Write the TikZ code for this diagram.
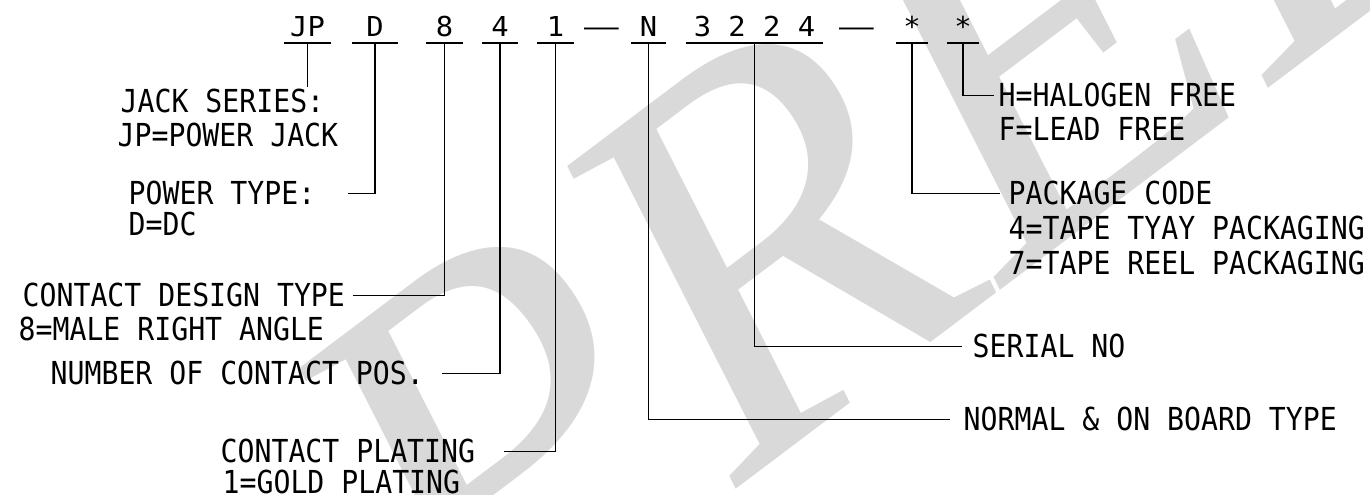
\documentclass[tikz,border=0pt]{standalone}
\usepackage{fontspec}
\usepackage{graphicx}
\usetikzlibrary{calc}
\newfontfamily\cadfont[FakeStretch=0.89]{DejaVu Sans Mono}
\newfontfamily\codefont[FakeStretch=1.05]{DejaVu Sans Mono}
\newfontfamily\markfont{Liberation Serif}

\tikzset{
  code/.style={inner xsep=0pt,inner ysep=0.06cm,text depth=0pt,anchor=south,font=\codefont\fontsize{7.8}{9}\selectfont},
  lbl/.style={inner sep=0pt,anchor=base west,font=\cadfont\fontsize{9}{9.5}\selectfont},
  watermark/.style={inner sep=0pt,anchor=base west,text=black!15,font=\markfont\itshape\fontsize{156}{156}\selectfont},
}

\begin{document}
\begin{tikzpicture}[x=0.01cm,y=-0.01cm]
\useasboundingbox (0,0) rectangle (1370,495);

% watermark
\begin{scope}
\clip (0,0) rectangle (1370,495);
\node[watermark,rotate=37] (prelim) at (470,690) {PRELIMINARY};
\end{scope}

% part number
\node[code,minimum width=0.45cm] (jp) at (307.5,43) {JP};
\node[code,minimum width=0.44cm] (d) at (375,43) {D};
\node[code,minimum width=0.35cm] (c8) at (444.5,43) {8};
\node[code,minimum width=0.34cm] (c4) at (500,43) {4};
\node[code,minimum width=0.35cm] (c1) at (555.5,43) {1};
\node[code] (dasha) at (601.5,43) {\scalebox{2}[1]{—}};
\node[code,minimum width=0.33cm] (cn) at (648.5,43) {N};
\node[code,minimum width=1.35cm] (serial) at (754.5,43) {3 2 2 4};
\node[code] (dashb) at (856.5,43) {\scalebox{2}[1]{—}};
\node[code,minimum width=0.30cm] (pkg) at (912,43) {*};
\node[code,minimum width=0.30cm] (hf) at (963,43) {*};
\foreach \n in {jp,d,c8,c4,c1,cn,serial,pkg,hf}
  \draw (\n.south west) -- (\n.south east);

% left labels
\node[lbl] (series) at (120,113) {JACK SERIES:};
\node[lbl] (seriesb) at (117,147) {JP=POWER JACK};
\node[lbl] (ptype) at (128,205) {POWER TYPE:};
\node[lbl] (ptypeb) at (128,236) {D=DC};
\node[lbl] (design) at (22,307) {CONTACT DESIGN TYPE};
\node[lbl] (designb) at (18,341) {8=MALE RIGHT ANGLE};
\node[lbl] (pos) at (50,385) {NUMBER OF CONTACT POS.};
\node[lbl] (plating) at (220,463) {CONTACT PLATING};
\node[lbl] (platingb) at (222,494) {1=GOLD PLATING};

% right labels
\node[lbl] (halo) at (998,107) {H=HALOGEN FREE};
\node[lbl] (halob) at (998,141) {F=LEAD FREE};
\node[lbl] (pack) at (1008,205) {PACKAGE CODE};
\node[lbl] (packb) at (1008,240) {4=TAPE TYAY PACKAGING};
\node[lbl] (packc) at (1008,275) {7=TAPE REEL PACKAGING};
\node[lbl] (serno) at (972,358) {SERIAL NO};
\node[lbl] (board) at (963,431) {NORMAL \& ON BOARD TYPE};

% leaders
\draw (jp.south) -- ($(jp.south |- series.north)+(0,-2)$);
\draw (d.south) |- ($(ptype.east)+(32,0)$);
\draw (c8.south) |- ($(design.east)+(7,0)$);
\draw (c4.south) |- ($(pos.east)+(17,0)$);
\draw (c1.south) |- ($(plating.east)+(28,0)$);
\draw (cn.south) |- ($(board.west)+(-13,0)$);
\draw (serial.south) |- ($(serno.west)+(-10,0)$);
\draw (pkg.south) |- ($(pack.west)+(-8,0)$);
\draw (hf.south) |- ($(halo.west)+(-4,0)$);
\end{tikzpicture}
\end{document}
